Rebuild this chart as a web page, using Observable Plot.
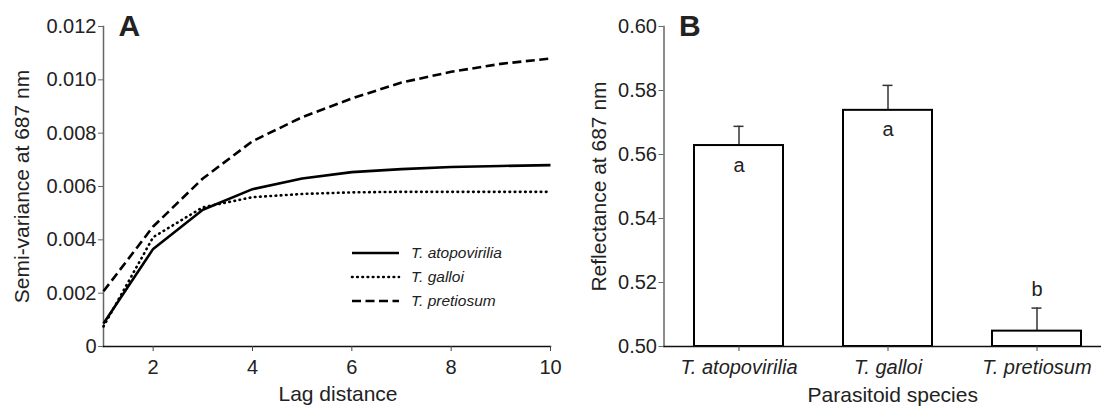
<!DOCTYPE html>
<html>
<head>
<meta charset="utf-8">
<script src="https://cdn.jsdelivr.net/npm/d3@7"></script>
<script src="https://cdn.jsdelivr.net/npm/@observablehq/plot@0.6"></script>
<style>
  body { margin: 0; background: #fff; }
  #wrap { position: relative; width: 1101px; height: 407px; overflow: hidden; }
  #panelA, #panelB { position: absolute; top: 0; }
  #panelA { left: 0; }
  #panelB { left: 553px; }
</style>
</head>
<body>
<div id="wrap"><div id="panelA"></div><div id="panelB"></div></div>
<script>
// ---- Panel A data ----
const lags = [1, 2, 3, 4, 5, 6, 7, 8, 9, 10];
const atopovirilia = [0.00086, 0.00366, 0.00513, 0.0059, 0.0063, 0.00654, 0.00665, 0.00673, 0.00677, 0.0068];
const galloi = [0.00075, 0.0041, 0.00522, 0.0056, 0.00572, 0.00578, 0.0058, 0.0058, 0.0058, 0.0058];
const pretiosum = [0.00207, 0.0045, 0.0063, 0.0077, 0.0086, 0.0093, 0.0099, 0.0103, 0.0106, 0.0108];
const seriesNames = ["T. atopovirilia", "T. galloi", "T. pretiosum"];
const yTicksA = [0, 0.002, 0.004, 0.006, 0.008, 0.010, 0.012];
const xTicksA = [2, 4, 6, 8, 10];

// ---- Panel B data ----
const species = ["T. atopovirilia", "T. galloi", "T. pretiosum"];
const reflectance = [0.5628, 0.5738, 0.5048];
const errorUpper = [0.5688, 0.5816, 0.5120];
const letters = ["a", "a", "b"];
const yTicksB = [0.50, 0.52, 0.54, 0.56, 0.58, 0.60];

const FONT = '"Liberation Sans", Arial, Helvetica, sans-serif';
const dashes = [null, "0.6,4.6", "9,4.5"];
const caps = ["butt", "round", "butt"];
const seriesValues = [atopovirilia, galloi, pretiosum];

const dataA = seriesNames.flatMap((s, k) => lags.map((l, i) => ({series: s, lag: l, value: seriesValues[k][i]})));
const dataB = species.map((s, i) => ({species: s, mean: reflectance[i], upper: errorUpper[i], letter: letters[i]}));

const plotA = Plot.plot({
  width: 553, height: 407,
  marginLeft: 103, marginRight: 3, marginTop: 26, marginBottom: 61,
  style: {fontFamily: FONT, fontSize: "20px", background: "transparent", color: "#222", overflow: "visible"},
  x: {domain: [1, 10]},
  y: {domain: [0, 0.012]},
  marks: [
    Plot.frame({anchor: "left", stroke: "#666", strokeWidth: 1.5}),
    Plot.frame({anchor: "bottom", stroke: "#111", strokeWidth: 1.5}),
    Plot.axisY({ticks: yTicksA, tickSize: 5, tickPadding: 2, label: null, stroke: "#666",
      tickFormat: d => d === 0 ? "0" : d3.format(".3f")(d)}),
    Plot.axisX({ticks: xTicksA, tickSize: 5, tickPadding: 8, label: null, stroke: "#444"}),
    ...seriesNames.map((s, k) => Plot.line(dataA.filter(d => d.series === s), {
      x: "lag", y: "value", stroke: "#000", strokeWidth: 2.6,
      strokeDasharray: dashes[k] ?? undefined, strokeLinecap: caps[k]
    })),
    Plot.text(["Semi-variance at 687 nm"], {frameAnchor: "left", textAnchor: "middle", rotate: -90, dx: -81, fontSize: 21}),
    Plot.text(["Lag distance"], {frameAnchor: "bottom", lineAnchor: "bottom", dy: 54, dx: 11, fontSize: 21}),
    Plot.text(["A"], {frameAnchor: "top-left", textAnchor: "start", lineAnchor: "bottom", dx: 15, dy: 9, fontSize: 30, fontWeight: "bold"})
  ]
});
document.getElementById("panelA").appendChild(plotA);

// legend for panel A
{
  const svg = d3.select(plotA);
  const g = svg.append("g").attr("font-family", FONT).attr("font-size", 15.5).attr("font-style", "italic")
    .attr("fill", "#222").attr("text-anchor", "start");
  seriesNames.forEach((s, k) => {
    const y = 253 + k * 24;
    g.append("line").attr("x1", 352).attr("x2", 399).attr("y1", y).attr("y2", y)
      .attr("stroke", "#000").attr("stroke-width", 2.6)
      .attr("stroke-linecap", caps[k])
      .attr("stroke-dasharray", dashes[k]);
    g.append("text").attr("x", 411).attr("y", y).attr("dy", "0.35em").attr("text-anchor", "start").text(s);
  });
}

const plotB = Plot.plot({
  width: 548, height: 407,
  marginLeft: 110.5, marginRight: 0, marginTop: 26, marginBottom: 61,
  style: {fontFamily: FONT, fontSize: "20px", background: "transparent", color: "#222", overflow: "visible"},
  x: {domain: species, range: [110.5, 558.5], paddingInner: 0.4, paddingOuter: 0.2},
  y: {domain: [0.5, 0.6]},
  marks: [
    Plot.ruleX(dataB, {x: "species", y1: "mean", y2: "upper", stroke: "#333", strokeWidth: 1.5}),
    Plot.tickY(dataB, {x: "species", y: "upper", stroke: "#333", strokeWidth: 1.5, insetLeft: 39.5, insetRight: 39.5}),
    Plot.barY(dataB, {x: "species", y1: 0.5, y2: "mean", fill: "white", stroke: "#000", strokeWidth: 2}),
    Plot.frame({anchor: "left", stroke: "#666", strokeWidth: 1.5}),
    Plot.frame({anchor: "bottom", stroke: "#111", strokeWidth: 1.5}),
    Plot.axisY({ticks: yTicksB, tickSize: 5, tickPadding: 2, label: null, stroke: "#666", tickFormat: d3.format(".2f")}),
    Plot.axisX({tickSize: 5, tickPadding: 8, label: null, stroke: "#444", fontStyle: "italic"}),
    Plot.text(dataB.filter(d => d.mean - 0.5 > 0.02), {x: "species", y: "mean", text: "letter", lineAnchor: "bottom", dy: 26, fontSize: 20}),
    Plot.text(dataB.filter(d => d.mean - 0.5 <= 0.02), {x: "species", y: "upper", text: "letter", lineAnchor: "bottom", dy: -12.5, fontSize: 20}),
    Plot.text(["Reflectance at 687 nm"], {frameAnchor: "left", textAnchor: "middle", rotate: -90, dx: -65, fontSize: 21}),
    Plot.text(["Parasitoid species"], {frameAnchor: "bottom", lineAnchor: "bottom", dy: 55, dx: 10, fontSize: 21}),
    Plot.text(["B"], {frameAnchor: "top-left", textAnchor: "start", lineAnchor: "bottom", dx: 15, dy: 9, fontSize: 30, fontWeight: "bold"})
  ]
});
document.getElementById("panelB").appendChild(plotB);
</script>
</body>
</html>
